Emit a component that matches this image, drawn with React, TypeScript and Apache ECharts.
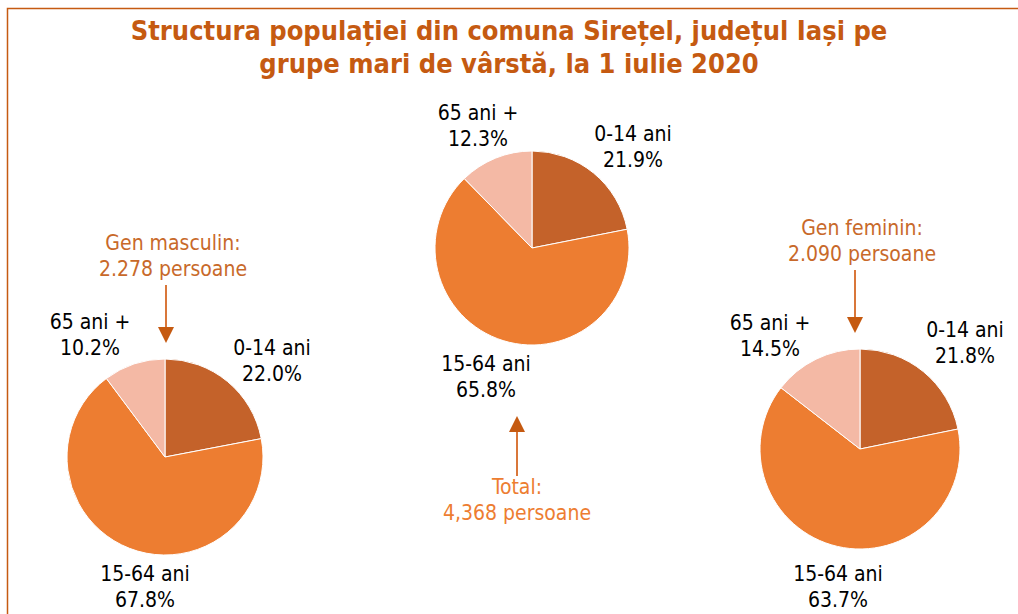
import React, { useEffect, useRef } from "react";
import * as echarts from "echarts";

const TITLE = "Structura populației din comuna Sirețel, județul Iași pe\ngrupe mari de vârstă, la 1 iulie 2020";
const AGE_GROUPS = ["0-14 ani", "15-64 ani", "65 ani +"];
const MALE = [22.0, 67.8, 10.2];
const TOTAL = [21.9, 65.8, 12.3];
const FEMALE = [21.8, 63.7, 14.5];
const NOTE_MALE = "Gen masculin:\n2.278 persoane";
const NOTE_TOTAL = "Total:\n4,368 persoane";
const NOTE_FEMALE = "Gen feminin:\n2.090 persoane";

const COLORS = ["#C4622A", "#ED7D31", "#F4B9A5"];
const FONT = "'DejaVu Sans Condensed', 'DejaVu Sans', sans-serif";
const FS = 21;

// label anchor positions (centers) per pie, order = AGE_GROUPS
const LABEL_POS: number[][][] = [
  [[272, 361], [145, 587], [90, 335]],
  [[633, 147], [486, 377], [478, 126]],
  [[965, 343], [838, 587], [770, 336]],
];

function makePie(name: string, values: number[], center: number[], radius: number, idx: number) {
  return {
    type: "pie",
    name,
    center,
    radius,
    startAngle: 90,
    clockwise: true,
    silent: true,
    itemStyle: { borderColor: "#ffffff", borderWidth: 1 },
    label: {
      show: true,
      position: "outside",
      formatter: (p: any) => `${p.name}\n${Number(p.value).toFixed(1)}%`,
      color: "#000000",
      fontFamily: FONT,
      fontSize: FS,
      lineHeight: 26,
      align: "center",
      overflow: "none",
    },
    labelLine: { show: false },
    labelLayout: (params: any) => {
      const pos = LABEL_POS[idx][params.dataIndex];
      return { x: pos[0], y: pos[1], align: "center", verticalAlign: "middle" };
    },
    data: AGE_GROUPS.map((g, i) => ({ name: g, value: values[i], itemStyle: { color: COLORS[i] } })),
  };
}

function arrow(x: number, y1: number, y2: number, up: boolean) {
  const lineColor = "#D9773A";
  const headColor = "#C55A11";
  const tipY = up ? y1 : y2;
  const baseY = up ? y1 + 16 : y2 - 16;
  return [
    {
      type: "line",
      shape: { x1: x, y1: up ? baseY : y1, x2: x, y2: up ? y2 : baseY },
      style: { stroke: lineColor, lineWidth: 2 },
    },
    {
      type: "polygon",
      shape: { points: [[x, tipY], [x - 8, baseY], [x + 8, baseY]] },
      style: { fill: headColor },
    },
  ];
}

export default function App() {
  const ref = useRef<HTMLDivElement>(null);
  useEffect(() => {
    document.body.style.margin = "0";
    const chart = echarts.init(ref.current!, null, { renderer: "svg" });
    chart.setOption({
      animation: false,
      backgroundColor: "#ffffff",
      title: {
        text: TITLE,
        left: "center",
        top: 9,
        textStyle: {
          fontFamily: FONT,
          fontWeight: "bold",
          fontSize: 27,
          lineHeight: 33,
          color: "#C55A11",
        },
      },
      graphic: [
        {
          type: "polyline",
          shape: { points: [[7.5, 640], [7.5, 8.5], [1030, 8.5]] },
          style: { stroke: "#C55A11", lineWidth: 1.5, fill: null },
        },
        {
          type: "text",
          x: 173,
          y: 256,
          style: { text: NOTE_MALE, fill: "#C8692A", font: `${FS}px ${FONT}`, lineHeight: 26, align: "center", verticalAlign: "middle" },
        },
        {
          type: "text",
          x: 862,
          y: 241,
          style: { text: NOTE_FEMALE, fill: "#C8692A", font: `${FS}px ${FONT}`, lineHeight: 26, align: "center", verticalAlign: "middle" },
        },
        {
          type: "text",
          x: 517,
          y: 500,
          style: { text: NOTE_TOTAL, fill: "#ED7D31", font: `${FS}px ${FONT}`, lineHeight: 26, align: "center", verticalAlign: "middle" },
        },
        ...arrow(166, 285, 343, false),
        ...arrow(855, 270, 333, false),
        ...arrow(517, 416, 476, true),
      ],
      series: [
        makePie("Gen masculin", MALE, [165, 457], 98, 0),
        makePie("Total", TOTAL, [532, 248], 97, 1),
        makePie("Gen feminin", FEMALE, [860, 449], 100, 2),
      ],
    });
    return () => chart.dispose();
  }, []);
  return <div ref={ref} style={{ position: "absolute", left: 0, top: 0, width: 1018, height: 614 }} />;
}
